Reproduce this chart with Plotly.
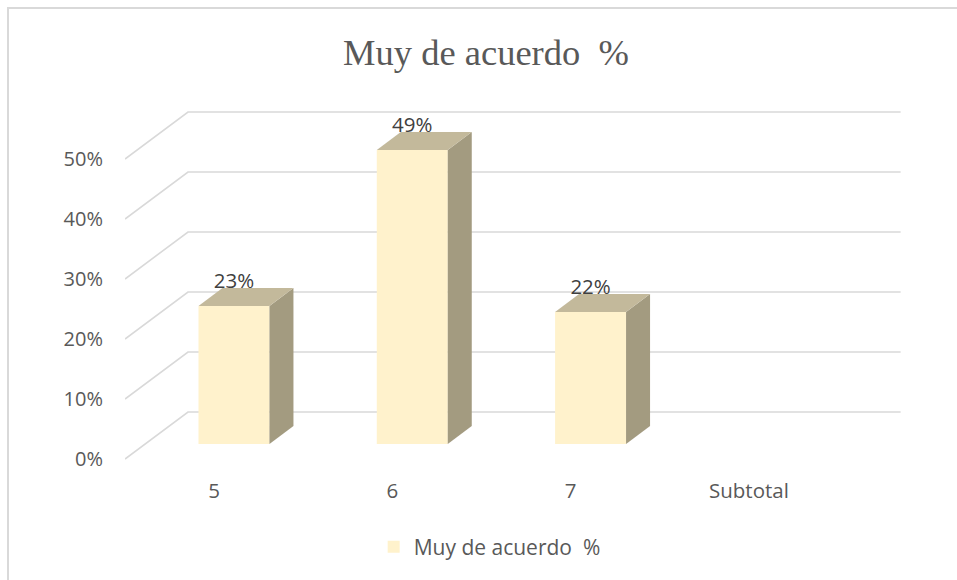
import plotly.graph_objects as go

# ---------------- data ----------------
categories = ["5", "6", "7", "Subtotal"]
values = [23, 49, 22]                 # percent (Subtotal has no bar)
value_labels = ["23%", "49%", "22%"]
tick_values = [0, 10, 20, 30, 40, 50]
tick_labels = ["0%", "10%", "20%", "30%", "40%", "50%"]
series_name = "Muy de acuerdo\u00a0 %"
chart_title = "Muy de acuerdo\u00a0 %"

# ---------------- 3D look (data units) ----------------
FLOOR_DX, FLOOR_DY = 0.3533, 7.83      # depth of floor / side wall
BAR_OFF_DX, BAR_OFF_DY = 0.112, 2.5    # bar front plane inside the floor
BAR_DX, BAR_DY = 0.1346, 3.0           # bar depth
BAR_W = 0.398
X_START, X_END = -0.4992, 3.851
X_RANGE = [-0.4992, 4.1671]
Y_RANGE = [-1.8333, 76.5]

FRONT_C, SIDE_C, TOP_C = "#FFF2CC", "#A39B80", "#C3B99B"
GRID_C = "#D9D9D9"
TXT_C = "#595959"
FONT = "Open Sans"

fig = go.Figure()

# back wall + side wall gridlines (below traces)
shapes = []
for v in tick_values:
    path = (f"M {X_START},{v} L {X_START + FLOOR_DX},{v + FLOOR_DY} "
            f"L {X_END},{v + FLOOR_DY}")
    shapes.append(dict(type="path", path=path, xref="x", yref="y", layer="below",
                       line=dict(color=GRID_C, width=1.6)))

# front faces
xs = [i + BAR_OFF_DX for i in range(len(values))]
fig.add_trace(go.Bar(x=xs, y=values, base=BAR_OFF_DY, width=BAR_W,
                     marker=dict(color=FRONT_C, line=dict(width=0)),
                     name=series_name, showlegend=True, hoverinfo="skip"))

# side and top faces
for xc, v in zip(xs, values):
    xl, xr = xc - BAR_W / 2, xc + BAR_W / 2
    b, t = BAR_OFF_DY, BAR_OFF_DY + v
    fig.add_trace(go.Scatter(
        x=[xr, xr + BAR_DX, xr + BAR_DX, xr, xr],
        y=[b, b + BAR_DY, t + BAR_DY, t, b],
        mode="lines", fill="toself", fillcolor=SIDE_C,
        line=dict(width=0, color=SIDE_C), showlegend=False, hoverinfo="skip"))
    fig.add_trace(go.Scatter(
        x=[xl, xl + BAR_DX, xr + BAR_DX, xr, xl],
        y=[t, t + BAR_DY, t + BAR_DY, t, t],
        mode="lines", fill="toself", fillcolor=TOP_C,
        line=dict(width=0, color=TOP_C), showlegend=False, hoverinfo="skip"))

# value labels
fig.add_trace(go.Scatter(
    x=xs, y=[v + BAR_OFF_DY + BAR_DY + 0.8 for v in values],
    text=value_labels, mode="text", textposition="middle center",
    textfont=dict(family=FONT, size=20.5, color="#404040"),
    showlegend=False, hoverinfo="skip"))

# chart border
shapes.append(dict(type="rect", xref="paper", yref="paper",
                   x0=(8 - 125) / 832, x1=1.2, y0=-0.5, y1=(470 - 8) / 470,
                   line=dict(color=GRID_C, width=2), layer="below"))

fig.update_layout(
    width=957, height=580,
    margin=dict(l=125, r=0, t=0, b=110),
    paper_bgcolor="white", plot_bgcolor="white",
    title=dict(text=chart_title, x=486 / 957, xanchor="center",
               y=1 - 52 / 580, yanchor="middle",
               font=dict(family="Liberation Serif", size=36.5, color=TXT_C)),
    xaxis=dict(range=X_RANGE, tickmode="array", tickvals=list(range(len(categories))),
               ticktext=categories, showgrid=False, zeroline=False, showline=False,
               ticks="", tickfont=dict(family=FONT, size=20.5, color=TXT_C),
               ticklabelstandoff=6),
    yaxis=dict(range=Y_RANGE, tickmode="array", tickvals=tick_values,
               ticktext=tick_labels, showgrid=False, zeroline=False, showline=False,
               ticks="", tickfont=dict(family=FONT, size=20, color=TXT_C),
               ticklabelstandoff=21),
    legend=dict(orientation="h", x=0.4383, xanchor="center", y=-0.1638,
                yanchor="middle", font=dict(family=FONT, size=21, color=TXT_C),
                bgcolor="rgba(0,0,0,0)"),
    shapes=shapes,
    showlegend=True,
)

fig.write_html("out.html", config={"displayModeBar": False},
               post_script="document.body.style.margin='0';")
